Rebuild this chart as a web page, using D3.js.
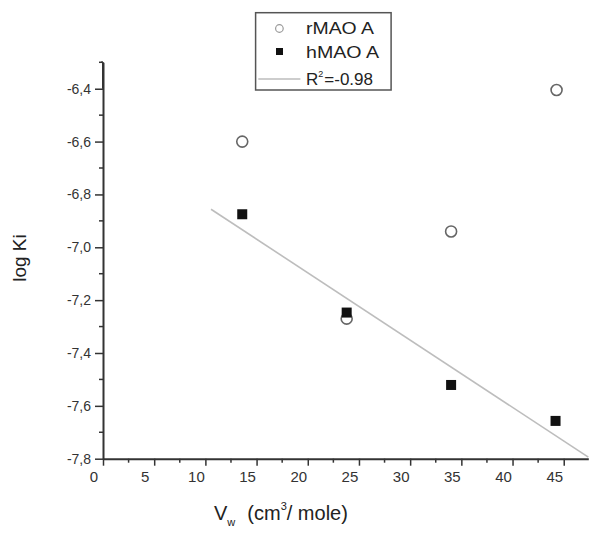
<!DOCTYPE html>
<html><head><meta charset="utf-8">
<script src="https://cdn.jsdelivr.net/npm/d3@7"></script>
<style>body{margin:0;background:#fff}svg{display:block}text{font-family:"Liberation Sans",Arial,sans-serif}</style>
</head><body>
<svg id="c" width="600" height="536"></svg>
<script>
// Data
const rmaoX = [13.6, 23.8, 34.0, 44.3];
const rmaoY = [-6.60, -7.27, -6.94, -6.405];
const hmaoX = [13.6, 23.8, 34.0, 44.2];
const hmaoY = [-6.875, -7.247, -7.521, -7.657];
const fitX = [10.55, 47.4];
const fitY = [-6.856, -7.794];
const xTicks = [0, 5, 10, 15, 20, 25, 30, 35, 40, 45];
const yTicks = [-6.4, -6.6, -6.8, -7.0, -7.2, -7.4, -7.6, -7.8];
const legendLabels = ["rMAO A", "hMAO A", "R\u00b2=-0.98"];

const svg = d3.select("#c");
const L = 103, R = 588.3, T = 62.3, B = 458.7;
const x = d3.scaleLinear().domain([0, 47.4]).range([L, R]);
const y = d3.scaleLinear().domain([-7.8, -6.3]).range([B, T]);
const axisColor = "#333";

// minor ticks
const xMinor = d3.range(2.5, 47.4, 5);
const yMinor = d3.range(-7.7, -6.29, 0.2);
const g = svg.append("g");
g.selectAll(".xm").data(xMinor).join("line")
  .attr("x1", d => x(d)).attr("x2", d => x(d)).attr("y1", B).attr("y2", B + 4)
  .attr("stroke", axisColor).attr("stroke-width", 1.5);
g.selectAll(".ym").data(yMinor).join("line")
  .attr("y1", d => y(d)).attr("y2", d => y(d)).attr("x1", L - 4).attr("x2", L)
  .attr("stroke", axisColor).attr("stroke-width", 1.5);

// x axis
const xAxis = svg.append("g").attr("transform", `translate(0,${B})`)
  .call(d3.axisBottom(x).tickValues(xTicks).tickSize(7).tickSizeOuter(0).tickFormat(d3.format("d")));
xAxis.select(".domain").attr("stroke", axisColor).attr("stroke-width", 2);
xAxis.selectAll(".tick line").attr("stroke", axisColor).attr("stroke-width", 1.5);
xAxis.selectAll(".tick text").attr("fill", "#333").attr("font-size", 15)
  .attr("dx", -9.5).attr("y", 13).attr("dy", "0.71em")
  .style("font-family", "'Liberation Sans', Arial, sans-serif");

// y axis
const yAxis = svg.append("g").attr("transform", `translate(${L},0)`)
  .call(d3.axisLeft(y).tickValues(yTicks).tickSize(8).tickSizeOuter(0)
    .tickFormat(d => d3.format(".1f")(d).replace(".", ",").replace("\u2212", "-")));
yAxis.select(".domain").attr("stroke", axisColor).attr("stroke-width", 2);
yAxis.selectAll(".tick line").attr("stroke", axisColor).attr("stroke-width", 1.5);
yAxis.selectAll(".tick text").attr("fill", "#333").attr("font-size", 14).attr("x", -12)
  .style("font-family", "'Liberation Sans', Arial, sans-serif");
// extend the axis top
svg.append("line").attr("x1", L).attr("x2", L).attr("y1", y(-6.3)).attr("y2", y(-6.4))
  .attr("stroke", axisColor).attr("stroke-width", 2);
svg.append("line").attr("x1", L - 2).attr("x2", L).attr("y1", y(-6.3)).attr("y2", y(-6.3))
  .attr("stroke", axisColor).attr("stroke-width", 1.5);

// fit line
const fit = fitX.map((d, i) => [d, fitY[i]]);
svg.append("path").datum(fit)
  .attr("d", d3.line().x(d => x(d[0])).y(d => y(d[1])))
  .attr("fill", "none").attr("stroke", "#bdbdbd").attr("stroke-width", 1.6);

// points
const rmao = rmaoX.map((d, i) => [d, rmaoY[i]]);
const hmao = hmaoX.map((d, i) => [d, hmaoY[i]]);
svg.selectAll(".r").data(rmao).join("circle")
  .attr("cx", d => x(d[0])).attr("cy", d => y(d[1])).attr("r", 5.5)
  .attr("fill", "none").attr("stroke", "#666").attr("stroke-width", 1.6);
const sq = 10;
svg.selectAll(".h").data(hmao).join("rect")
  .attr("x", d => x(d[0]) - sq / 2).attr("y", d => y(d[1]) - sq / 2)
  .attr("width", sq).attr("height", sq).attr("fill", "#111");

// legend
const lg = svg.append("g");
lg.append("rect").attr("x", 255.6).attr("y", 12.7).attr("width", 135.5).attr("height", 77.3)
  .attr("fill", "#fff").attr("stroke", "#555").attr("stroke-width", 1.5);
const rows = [34, 57.5, 85];
const lens = [68, 73];
lg.append("circle").attr("cx", 279.4).attr("cy", 28.5).attr("r", 3.8)
  .attr("fill", "none").attr("stroke", "#999").attr("stroke-width", 1.2);
lg.append("rect").attr("x", 276).attr("y", 48).attr("width", 7).attr("height", 7).attr("fill", "#111");
lg.append("line").attr("x1", 258.3).attr("x2", 300.4).attr("y1", 79).attr("y2", 79)
  .attr("stroke", "#bdbdbd").attr("stroke-width", 1.6);
lg.selectAll("text.lab").data(legendLabels.slice(0, 2)).join("text")
  .attr("x", 306).attr("y", (d, i) => rows[i]).attr("font-size", 17).attr("fill", "#222")
  .attr("textLength", (d, i) => lens[i]).attr("lengthAdjust", "spacingAndGlyphs").text(d => d);
const r2 = lg.append("text").attr("x", 306).attr("y", rows[2]).attr("font-size", 17).attr("fill", "#222");
r2.append("tspan").text("R");
r2.append("tspan").attr("dy", -8).attr("font-size", 9).text("2");
r2.append("tspan").attr("dy", 8).attr("dx", 1).text("=-0.98");

// axis titles
svg.append("text").attr("transform", "translate(26,258) rotate(-90)")
  .attr("text-anchor", "middle").attr("font-size", 19).attr("fill", "#222").text("log Ki");
const xt = svg.append("text").attr("x", 214).attr("y", 520).attr("font-size", 20).attr("fill", "#222");
xt.append("tspan").text("V");
xt.append("tspan").attr("dy", 6).attr("font-size", 11).text("w");
xt.append("tspan").attr("dy", -6).attr("dx", 12).text("(cm");
xt.append("tspan").attr("dy", -10).attr("font-size", 11).text("3");
xt.append("tspan").attr("dy", 10).text("/ mole)");
</script>
</body></html>
